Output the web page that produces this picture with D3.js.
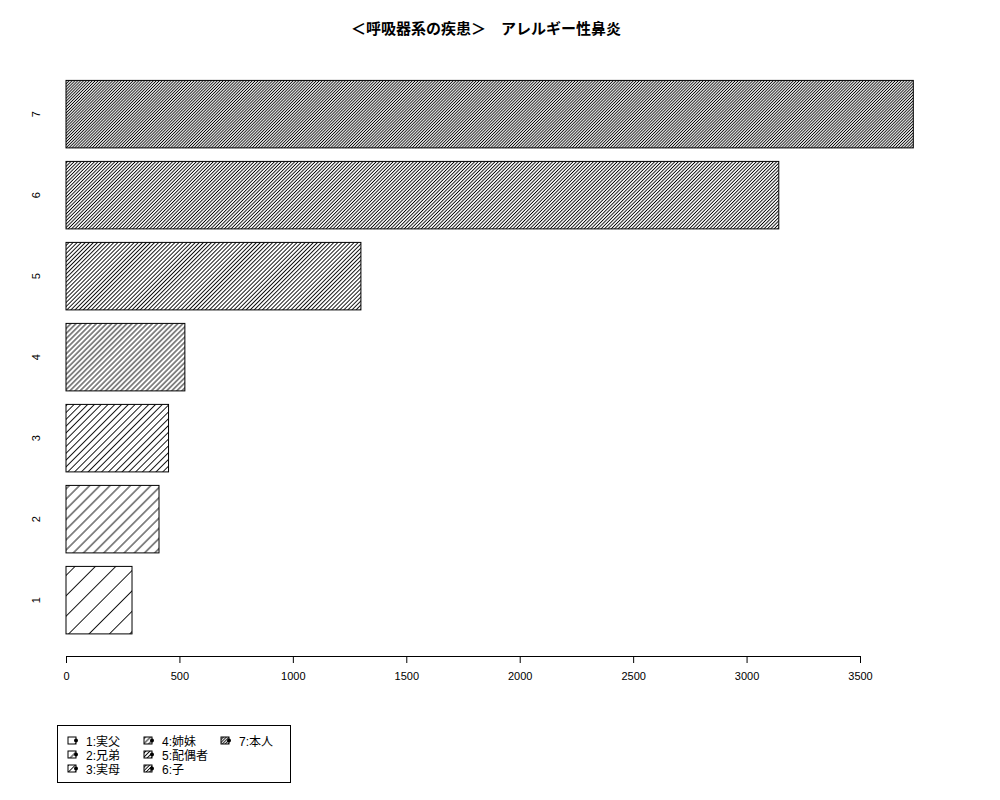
<!DOCTYPE html>
<html>
<head>
<meta charset="utf-8">
<script src="https://cdn.jsdelivr.net/npm/d3@7"></script>
<style>
  body { margin: 0; background: white; }
  text { font-family: "Liberation Sans", "Noto Sans CJK JP", sans-serif; }
</style>
</head>
<body>
<script>
// chart data
var categories = ["1", "2", "3", "4", "5", "6", "7"];
var values = [291, 410, 452, 524, 1300, 3142, 3735];
var legendLabels = ["1:実父", "2:兄弟", "3:実母", "4:姉妹", "5:配偶者", "6:子", "7:本人"];
var xTicks = [0, 500, 1000, 1500, 2000, 2500, 3000, 3500];
var title = "＜呼吸器系の疾患＞　アレルギー性鼻炎";
// hatch density (lines per inch), one per bar
var densities = [5, 10, 15, 20, 25, 30, 35];

var width = 1000, height = 800;

var svg = d3.select("body")
   .append("svg")
   .attr("width", width)
   .attr("height", height)

svg.append("rect")
   .attr("width", width)
   .attr("height", height)
   .style("fill", "white")

var defs = svg.append("defs")
densities.forEach(function (d, i) {
   var s = 72 / d
   var p = defs.append("pattern")
      .attr("id", "hatch" + i)
      .attr("patternUnits", "userSpaceOnUse")
      .attr("width", s)
      .attr("height", s)
      .attr("patternTransform", "rotate(45)")
   p.append("line")
      .attr("x1", s / 2).attr("y1", 0)
      .attr("x2", s / 2).attr("y2", s)
      .style("stroke", "black")
      .style("stroke-width", 0.9)
});

var x = d3.scaleLinear()
   .domain([0, 3500])
   .range([66, 860])

var y = d3.scaleBand()
   .domain(categories.slice().reverse())
   .range([73.65, 640.65])
   .paddingInner(1 / 6)
   .paddingOuter(1 / 12)

// title
svg.append("text")
   .attr("x", 486)
   .attr("y", 34)
   .attr("text-anchor", "middle")
   .style("font-size", "15px")
   .style("font-weight", "bold")
   .text(title)

// bars
svg.selectAll("rect.bar")
   .data(values)
   .enter()
   .append("rect")
   .attr("class", "bar")
   .attr("x", x(0))
   .attr("y", function (d, i) { return y(categories[i]); })
   .attr("width", function (d) { return x(d) - x(0); })
   .attr("height", y.bandwidth())
   .style("fill", function (d, i) { return "url(#hatch" + i + ")"; })
   .style("stroke", "black")
   .style("stroke-width", 1)

// y labels (rotated)
svg.selectAll("text.ylab")
   .data(categories)
   .enter()
   .append("text")
   .attr("class", "ylab")
   .attr("transform", function (d) {
      return "translate(40," + (y(d) + y.bandwidth() / 2) + ") rotate(-90)";
   })
   .attr("text-anchor", "middle")
   .style("font-size", "11px")
   .text(function (d) { return d; })

// x axis
var xAxis = svg.append("g")
   .attr("transform", "translate(0,656)")
   .call(d3.axisBottom(x).tickValues(xTicks).tickFormat(d3.format("d"))
      .tickSize(7).tickPadding(9).tickSizeOuter(0))
xAxis.select(".domain").style("stroke", "black")
xAxis.selectAll("line").style("stroke", "black")
xAxis.selectAll("text")
   .style("font-family", "'Liberation Sans', sans-serif")
   .style("font-size", "11px")

// legend
var legend = svg.append("g")
svg.append("rect")
   .attr("x", 57.5)
   .attr("y", 725.5)
   .attr("width", 233)
   .attr("height", 57)
   .style("fill", "none")
   .style("stroke", "black")

var colX = [68, 144, 221]
var rowY = [741, 755, 769]
legendLabels.forEach(function (lab, i) {
   var cx = colX[Math.floor(i / 3)]
   var cy = rowY[i % 3]
   var g = legend.append("g").attr("transform", "translate(" + cx + "," + cy + ")")
   g.append("rect")
      .attr("x", 0).attr("y", -4)
      .attr("width", 8).attr("height", 7)
      .style("fill", "url(#hatch" + i + ")")
      .style("stroke", "black")
      .style("stroke-width", 1)
   g.append("circle")
      .attr("cx", 8).attr("cy", -0.5)
      .attr("r", 2)
      .style("fill", "black")
   g.append("text")
      .attr("x", 18)
      .attr("y", 4.5)
      .style("font-size", "12px")
      .text(lab)
});
</script>
</body>
</html>
